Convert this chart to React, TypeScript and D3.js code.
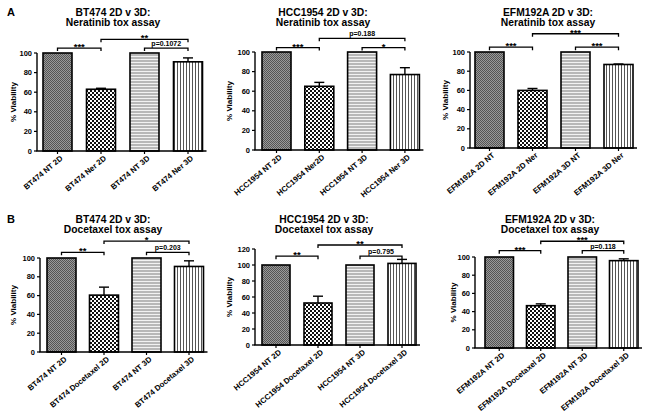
import React from "react";
import * as d3 from "d3";

// ---------- DATA ----------
const btNerCategories = ["BT474 NT 2D", "BT474 Ner 2D", "BT474 NT 3D", "BT474 Ner 3D"];
const btNerMeans = [100, 63, 100, 91];
const btNerErrors = [0, 1, 0, 4];
const btNerSig = ["***", "**", "p=0.1072"];

const hccNerCategories = ["HCC1954 NT 2D", "HCC1954 Ner2D", "HCC1954 NT 3D", "HCC1954 Ner 3D"];
const hccNerMeans = [100, 65, 100, 77];
const hccNerErrors = [0, 4, 0, 7];
const hccNerSig = ["***", "p=0.188", "*"];

const efmNerCategories = ["EFM192A 2D NT", "EFM192A 2D Ner", "EFM192A 3D NT", "EFM192A 3D Ner"];
const efmNerMeans = [100, 60, 100, 87];
const efmNerErrors = [0, 2, 0, 0.5];
const efmNerSig = ["***", "***", "***"];

const btDocCategories = ["BT474 NT 2D", "BT474 Docetaxel 2D", "BT474 NT 3D", "BT474 Docetaxel 3D"];
const btDocMeans = [100, 60.5, 100, 91];
const btDocErrors = [0, 8.5, 0, 6];
const btDocSig = ["**", "*", "p=0.203"];

const hccDocCategories = ["HCC1954 NT 2D", "HCC1954 Docetaxel 2D", "HCC1954 NT 3D", "HCC1954 Docetaxel 3D"];
const hccDocMeans = [100, 52.5, 100, 102];
const hccDocErrors = [0, 8.5, 0, 5];
const hccDocSig = ["**", "**", "p=0.795"];

const efmDocCategories = ["EFM192A NT 2D", "EFM192A Docetaxel 2D", "EFM192A NT 3D", "EFM192A Docetaxel 3D"];
const efmDocMeans = [100, 46.5, 100, 96];
const efmDocErrors = [0, 2, 0, 2];
const efmDocSig = ["***", "***", "p=0.118"];

const ticks100 = [0, 20, 40, 60, 80, 100];
const ticks120 = [0, 20, 40, 60, 80, 100, 120];

const bracketPairs: [number, number, number][] = [
  [0, 1, 0],
  [1, 3, 1],
  [2, 3, 0],
];

// ---------- LAYOUT ----------
type Layout = {
  axisX: number; y0: number; yTop: number; yMax: number;
  step: number; first: number; barW: number;
  titleX: number; titleY: number; ylabX: number;
  levels: [number, number];
};

const panels = [
  {
    title: ["BT474 2D v 3D:", "Neratinib tox assay"], letter: "A",
    cats: btNerCategories, means: btNerMeans, errs: btNerErrors, sig: btNerSig, ticks: ticks100,
    layout: { axisX: 37, y0: 151, yTop: 53, yMax: 100, step: 43.5, first: 6, barW: 29, titleX: 113, titleY: 15.5, ylabX: 16, levels: [105, 114] } as Layout,
  },
  {
    title: ["HCC1954 2D v 3D:", "Neratinib tox assay"], letter: "",
    cats: hccNerCategories, means: hccNerMeans, errs: hccNerErrors, sig: hccNerSig, ticks: ticks100,
    layout: { axisX: 255, y0: 150, yTop: 52, yMax: 100, step: 42.8, first: 7, barW: 29, titleX: 323, titleY: 15.5, ylabX: 232, levels: [104.5, 114] } as Layout,
  },
  {
    title: ["EFM192A 2D v 3D:", "Neratinib tox assay"], letter: "",
    cats: efmNerCategories, means: efmNerMeans, errs: efmNerErrors, sig: efmNerSig, ticks: ticks100,
    layout: { axisX: 470, y0: 148, yTop: 52, yMax: 100, step: 43, first: 5, barW: 29, titleX: 548, titleY: 15.5, ylabX: 448, levels: [105, 119] } as Layout,
  },
  {
    title: ["BT474 2D v 3D:", "Docetaxel tox assay"], letter: "B",
    cats: btDocCategories, means: btDocMeans, errs: btDocErrors, sig: btDocSig, ticks: ticks100,
    layout: { axisX: 40, y0: 352, yTop: 258, yMax: 100, step: 42.5, first: 7, barW: 29, titleX: 113, titleY: 222.5, ylabX: 16, levels: [106, 118] } as Layout,
  },
  {
    title: ["HCC1954 2D v 3D:", "Docetaxel tox assay"], letter: "",
    cats: hccDocCategories, means: hccDocMeans, errs: hccDocErrors, sig: hccDocSig, ticks: ticks120,
    layout: { axisX: 255, y0: 345, yTop: 249, yMax: 120, step: 42, first: 7, barW: 28, titleX: 324, titleY: 223, ylabX: 232, levels: [111, 125] } as Layout,
  },
  {
    title: ["EFM192A 2D v 3D:", "Docetaxel tox assay"], letter: "",
    cats: efmDocCategories, means: efmDocMeans, errs: efmDocErrors, sig: efmDocSig, ticks: ticks100,
    layout: { axisX: 475, y0: 348, yTop: 257, yMax: 100, step: 41.5, first: 10, barW: 28.5, titleX: 550, titleY: 222.5, ylabX: 456, levels: [107, 117.3] } as Layout,
  },
];

const FONT = "'Liberation Sans', Arial, Helvetica, sans-serif";
const fills = ["url(#pat0)", "url(#pat1)", "url(#pat2)", "url(#pat3)"];

function Panel({ p }: { p: typeof panels[number] }) {
  const L = p.layout;
  const n = p.cats.length;
  const start = L.axisX + L.first;
  const pi = 1 - L.barW / L.step;
  const x = d3
    .scaleBand<string>()
    .domain(p.cats)
    .range([start, start + L.step * (n - pi)])
    .paddingInner(pi)
    .paddingOuter(0);
  const y = d3.scaleLinear().domain([0, L.yMax]).range([L.y0, L.yTop]);
  const bw = x.bandwidth();
  const cx = (i: number) => (x(p.cats[i]) as number) + bw / 2;
  const axisEnd = (x(p.cats[n - 1]) as number) + bw + 4;

  return (
    <g>
      {p.letter && (
        <text x={7} y={L.titleY} fontSize={11} fontWeight="bold" fontFamily={FONT}>
          {p.letter}
        </text>
      )}
      <text x={L.titleX} y={L.titleY} textAnchor="middle" fontSize={10.3} fontWeight="bold" fontFamily={FONT}>
        {p.title[0]}
      </text>
      <text x={L.titleX} y={L.titleY + 10} textAnchor="middle" fontSize={10.3} fontWeight="bold" fontFamily={FONT}>
        {p.title[1]}
      </text>
      {p.means.map((m, i) => (
        <g key={i}>
          <rect
            x={x(p.cats[i])}
            y={y(m)}
            width={bw}
            height={L.y0 - y(m)}
            fill={fills[i]}
            stroke="#000"
            strokeWidth={1.6}
          />
          {p.errs[i] > 0 && (
            <g stroke="#000" strokeWidth={1.4}>
              <line x1={cx(i)} x2={cx(i)} y1={y(m)} y2={y(m + p.errs[i])} />
              <line x1={cx(i) - 5} x2={cx(i) + 5} y1={y(m + p.errs[i])} y2={y(m + p.errs[i])} />
            </g>
          )}
        </g>
      ))}
      <line x1={L.axisX} x2={L.axisX} y1={y(0)} y2={y(L.yMax)} stroke="#000" strokeWidth={1.4} />
      {p.ticks.map((t) => (
        <g key={t}>
          <line x1={L.axisX - 3} x2={L.axisX} y1={y(t)} y2={y(t)} stroke="#000" strokeWidth={1.2} />
          <text x={L.axisX - 5} y={y(t)} dy="0.35em" textAnchor="end" fontSize={7.5} fontWeight="bold" fontFamily={FONT}>
            {t}
          </text>
        </g>
      ))}
      <text
        transform={`translate(${L.ylabX},${(L.y0 + L.yTop) / 2}) rotate(-90)`}
        textAnchor="middle"
        fontSize={8}
        fontWeight="bold"
        fontFamily={FONT}
      >
        {"% Viability"}
      </text>
      <line x1={L.axisX - 0.7} x2={axisEnd} y1={L.y0} y2={L.y0} stroke="#000" strokeWidth={1.4} />
      {p.cats.map((c, i) => (
        <g key={c}>
          <line x1={cx(i)} x2={cx(i)} y1={L.y0} y2={L.y0 + 3} stroke="#000" strokeWidth={1.2} />
          <text
            transform={`translate(${cx(i) + 4},${L.y0 + 6}) rotate(-40)`}
            textAnchor="end"
            dy="0.35em"
            fontSize={7.8}
            fontWeight="bold"
            fontFamily={FONT}
          >
            {c}
          </text>
        </g>
      ))}
      {bracketPairs.map(([a, b, lv], k) => {
        const by = y(L.levels[lv]);
        const x1 = cx(a);
        const x2 = cx(b);
        const lab = p.sig[k];
        const isStar = lab.startsWith("*");
        return (
          <g key={k}>
            <path d={`M${x1},${by + 3}V${by}H${x2}V${by + 3}`} fill="none" stroke="#000" strokeWidth={1.3} />
            <text
              x={(x1 + x2) / 2}
              y={isStar ? by + 2 : by - 2}
              textAnchor="middle"
              fontSize={isStar ? 9.5 : 7}
              fontWeight="bold"
              fontFamily={FONT}
            >
              {lab}
            </text>
          </g>
        );
      })}
    </g>
  );
}

export default function App() {
  return (
    <svg
      width={648}
      height={416}
      style={{ position: "absolute", left: 0, top: 0, background: "#fff" }}
    >
      <defs>
        <pattern id="pat0" width={2} height={2} patternUnits="userSpaceOnUse">
          <rect width={2} height={2} fill="#9a9a9a" />
          <rect width={1} height={1} fill="#555" />
          <rect x={1} y={1} width={1} height={1} fill="#555" />
        </pattern>
        <pattern id="pat1" width={4} height={4} patternUnits="userSpaceOnUse">
          <rect width={4} height={4} fill="#fff" />
          <rect width={2} height={2} fill="#111" />
          <rect x={2} y={2} width={2} height={2} fill="#111" />
        </pattern>
        <pattern id="pat2" width={3} height={3} patternUnits="userSpaceOnUse">
          <rect width={3} height={3} fill="#b8b8b8" />
          <rect y={2} width={3} height={1} fill="#f2f2f2" />
        </pattern>
        <pattern id="pat3" width={3} height={3} patternUnits="userSpaceOnUse">
          <rect width={3} height={3} fill="#fff" />
          <rect width={1} height={3} fill="#555" />
        </pattern>
      </defs>
      <rect width={648} height={416} fill="#fff" />
      {panels.map((p, i) => (
        <Panel key={i} p={p} />
      ))}
    </svg>
  );
}
